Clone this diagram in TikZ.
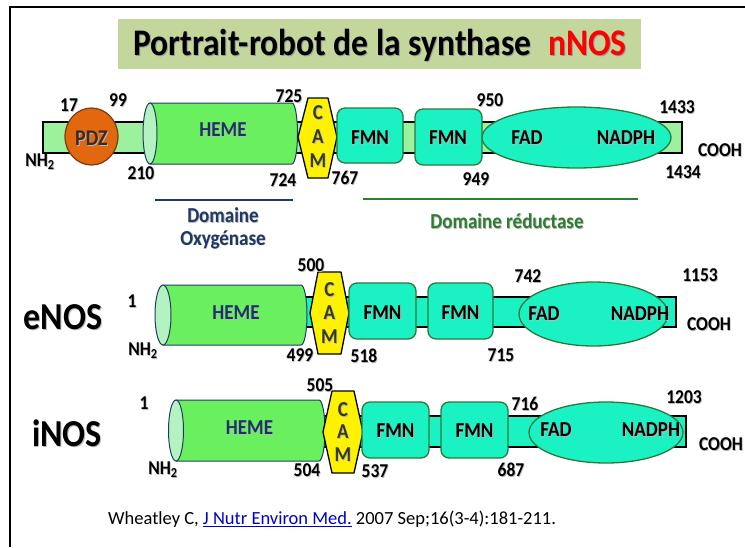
\documentclass[tikz,border=0pt]{standalone}
\usepackage{fontspec}
\setmainfont{Carlito}
\definecolor{barlight}{HTML}{9CF29C}
\definecolor{hemegreen}{HTML}{6AF05E}
\definecolor{hemelight}{HTML}{B4F2C2}
\definecolor{hemeblue}{HTML}{1F3D63}
\definecolor{hemetext}{HTML}{17375E}
\definecolor{tealfill}{HTML}{1AF2C4}
\definecolor{fmnborder}{HTML}{2B7A3A}
\definecolor{pdzfill}{HTML}{E2680F}
\definecolor{pdzborder}{HTML}{7A3A10}
\definecolor{pdztext}{HTML}{3A2A20}
\definecolor{camtext}{HTML}{3A3A10}
\definecolor{domblue}{HTML}{1F3864}
\definecolor{domgreen}{HTML}{2E7D32}
\definecolor{titlegreen}{HTML}{C3D69B}
\definecolor{linkblue}{HTML}{0000CC}
\newcommand{\fs}[1]{\fontsize{#1}{#1}\selectfont}
\newcommand{\Tn}[1]{\scalebox{1}[1.12]{#1}}
\newcommand{\T}[1]{\scalebox{1}[1.12]{\rlap{\hspace{0.8pt}\raisebox{-0.8pt}{\color{black!28}#1}}#1}}
\begin{document}
\begin{tikzpicture}[x=1pt,y=-1pt,
  lbl/.style={font=\bfseries\fs{17.5}, inner sep=0pt},
  domtxt/.style={font=\bfseries\fs{19}, inner sep=0pt},
  bigtxt/.style={font=\bfseries\fs{34}, inner sep=0pt},
  barN/.style={draw=black, line width=1.3pt, fill=barlight},
  barT/.style={draw=black, line width=1.3pt, fill=tealfill},
  hemebody/.style={fill=hemegreen, draw=hemeblue, line width=1pt},
  hemeend/.style={fill=hemelight, draw=hemeblue, line width=1pt},
  camshape/.style={fill=yellow, draw=black, line width=1.3pt, line join=round},
  fmnbox/.style={fill=tealfill, draw=fmnborder, line width=1.3pt, rounded corners=8pt},
  fadshape/.style={fill=tealfill, draw=fmnborder, line width=1.3pt},
  camletter/.style={font=\bfseries\fs{19}, text=camtext, inner sep=0pt},
  hemelbl/.style={font=\bfseries\fs{19}, text=hemetext, inner sep=0pt},
  domlbl/.style={font=\bfseries\fs{19}, inner sep=0pt},
]
\useasboundingbox (0,0) rectangle (745,547);
% frame
\draw[line width=2pt] (10,547) -- (10,7) -- (745,7);
% title
\node[fill=titlegreen, minimum width=523pt, minimum height=50pt, inner sep=0pt] (titlebox) at (379.5,43.5) {};
\node[font=\bfseries\fs{33.5}, inner sep=0pt, text=black!40] (titleshadow) at (381,46.2) {\Tn{Portrait-robot de la synthase\hspace{0.5em}nNOS}};
\node[font=\bfseries\fs{33.5}, inner sep=0pt] (title) at (380,45) {\Tn{Portrait-robot de la synthase\hspace{0.5em}\textcolor{red}{nNOS}}};

% ================= nNOS =================
\draw[barN] (43,122) rectangle (682,153);
% PDZ
\draw[fill=pdzfill, draw=pdzborder, line width=1.2pt] (91.5,136.5) ellipse[x radius=26.5pt, y radius=28.5pt];
\node[font=\bfseries\fs{20}, text=pdztext, inner sep=0pt] (pdz) at (91.5,138.5) {\T{PDZ}};
% HEME
\draw[hemebody] (150,103) -- (292,103) arc[start angle=90, end angle=-90, x radius=5.5pt, y radius=30.5pt] -- (150,164) -- cycle;
\draw[hemeend] (150,133.5) ellipse[x radius=7pt, y radius=30.5pt];
\node[hemelbl] (hemeA) at (223,130.5) {\T{HEME}};
% CAM
\draw[camshape] (308,98) -- (328,98) -- (337,137) -- (328,178) -- (308,178) -- (298,137) -- cycle;
\node[camletter] (cA1) at (318,113) {\T{C}};
\node[camletter] (cA2) at (318,137) {\T{A}};
\node[camletter] (cA3) at (318,161) {\T{M}};
% FMN
\draw[fmnbox] (337,108) rectangle (403,163);
\node[domtxt] (fmnA1) at (370,138) {\T{FMN}};
\draw[fmnbox] (415,109) rectangle (482,165);
\node[domtxt] (fmnA2) at (448,138) {\T{FMN}};
% FAD
\draw[fadshape] (576.5,137.5) ellipse[x radius=94.5pt, y radius=30.5pt];
\node[domtxt] (fadA) at (527,138) {\T{FAD}};
\node[domtxt] (nadphA) at (626,138) {\T{NADPH}};
% labels
\node[lbl] (l17) at (69,106) {\T{17}};
\node[lbl] (l99) at (118,101) {\T{99}};
\node[lbl] (lnhA) at (40,162) {\T{NH\textsubscript{2}}};
\node[lbl] (l210) at (141,174) {\T{210}};
\node[lbl] (l725) at (289,97) {\T{725}};
\node[lbl] (l724) at (283,181) {\T{724}};
\node[lbl] (l767) at (345,178) {\T{767}};
\node[lbl] (l950) at (490,101) {\T{950}};
\node[lbl] (l949) at (476,180) {\T{949}};
\node[lbl] (l1433) at (677,108) {\T{1433}};
\node[lbl] (l1434) at (683,173) {\T{1434}};
\node[lbl] (lcoA) at (720,151) {\T{COOH}};

% domains
\draw[domblue, line width=1.3pt] (155,200) -- (293,200);
\node[domlbl, text=domblue] (domox1) at (223,216) {\T{Domaine}};
\node[domlbl, text=domblue] (domox2) at (223,240) {\T{Oxygénase}};
\draw[domgreen, line width=1.3pt] (363,199) -- (638,199);
\node[domlbl, text=domgreen] (domred) at (507,222) {\T{Domaine réductase}};

% ================= eNOS =================
\node[bigtxt] (enos) at (63,318) {\T{eNOS}};
\draw[barT] (295,297) rectangle (676,327);
\draw[hemebody] (163,285) -- (301,285) arc[start angle=90, end angle=-90, x radius=6pt, y radius=30pt] -- (163,345) -- cycle;
\draw[hemeend] (163,315) ellipse[x radius=8pt, y radius=30pt];
\node[hemelbl] (hemeB) at (236,313) {\T{HEME}};
\draw[camshape] (318,272) -- (341,272) -- (349,313) -- (341,354) -- (318,354) -- (310,313) -- cycle;
\node[camletter] (cB1) at (329.5,290) {\T{C}};
\node[camletter] (cB2) at (329.5,313) {\T{A}};
\node[camletter] (cB3) at (329.5,337) {\T{M}};
\draw[fmnbox] (349,283) rectangle (416,339);
\node[domtxt] (fmnB1) at (382.5,313) {\T{FMN}};
\draw[fmnbox] (428,283) rectangle (493,339);
\node[domtxt] (fmnB2) at (460.5,313) {\T{FMN}};
\draw[fadshape] (593.5,314) ellipse[x radius=74.5pt, y radius=32pt];
\node[domtxt] (fadB) at (544,314) {\T{FAD}};
\node[domtxt] (nadphB) at (640,314) {\T{NADPH}};
\node[lbl] (lB1) at (132,302) {\T{1}};
\node[lbl] (lnhB) at (143,351) {\T{NH\textsubscript{2}}};
\node[lbl] (l500) at (311,266) {\T{500}};
\node[lbl] (l499) at (300,356) {\T{499}};
\node[lbl] (l518) at (364,356) {\T{518}};
\node[lbl] (l742) at (528,277) {\T{742}};
\node[lbl] (l715) at (501,356) {\T{715}};
\node[lbl] (l1153) at (700,276) {\T{1153}};
\node[lbl] (lcoB) at (709,325) {\T{COOH}};

% ================= iNOS =================
\node[bigtxt] (inos) at (67,434) {\T{iNOS}};
\draw[barT] (312,416) rectangle (686,447);
\draw[hemebody] (176,400) -- (319,400) arc[start angle=90, end angle=-90, x radius=6pt, y radius=30.5pt] -- (176,461) -- cycle;
\draw[hemeend] (176,430.5) ellipse[x radius=7.5pt, y radius=30.5pt];
\node[hemelbl] (hemeC) at (249.5,428) {\T{HEME}};
\draw[camshape] (332,391) -- (354,391) -- (363,432) -- (354,473) -- (332,473) -- (323,432) -- cycle;
\node[camletter] (cC1) at (343,410) {\T{C}};
\node[camletter] (cC2) at (343,432) {\T{A}};
\node[camletter] (cC3) at (343,455) {\T{M}};
\draw[fmnbox] (362,402) rectangle (429,458);
\node[domtxt] (fmnC1) at (395.5,431) {\T{FMN}};
\draw[fmnbox] (441,402) rectangle (508,458);
\node[domtxt] (fmnC2) at (474.5,431) {\T{FMN}};
\draw[fadshape] (606,432.5) ellipse[x radius=77pt, y radius=30.5pt];
\node[domtxt] (fadC) at (556,430) {\T{FAD}};
\node[domtxt] (nadphC) at (651,430) {\T{NADPH}};
\node[lbl] (lC1) at (144,404) {\T{1}};
\node[lbl] (lnhC) at (163,470) {\T{NH\textsubscript{2}}};
\node[lbl] (l505) at (320,386) {\T{505}};
\node[lbl] (l504) at (307,471) {\T{504}};
\node[lbl] (l537) at (375,472) {\T{537}};
\node[lbl] (l716) at (525,404) {\T{716}};
\node[lbl] (l687) at (511,470) {\T{687}};
\node[lbl] (l1203) at (684,398) {\T{1203}};
\node[lbl] (lcoC) at (721,445) {\T{COOH}};

% citation
\node[font=\fs{18.5}, anchor=west, inner sep=0pt] (cite) at (108,519) {Wheatley C, \textcolor{linkblue}{\underline{J Nutr Environ Med.}} 2007 Sep;16(3-4):181-211.};
\end{tikzpicture}
\end{document}
